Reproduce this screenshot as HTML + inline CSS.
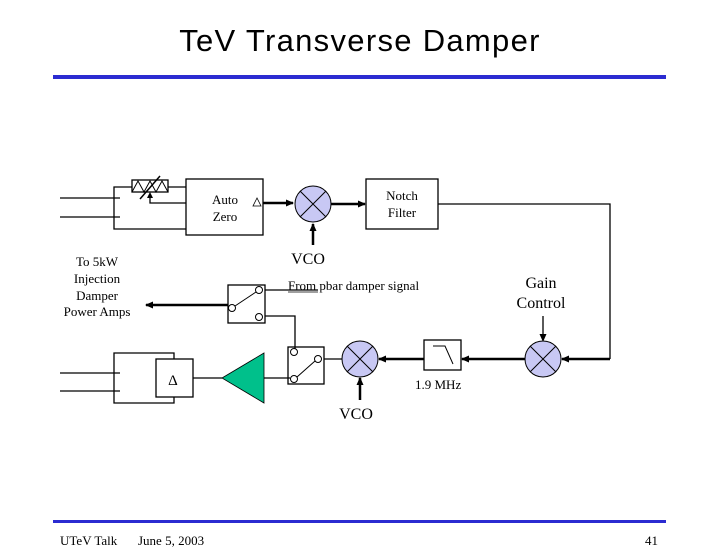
<!DOCTYPE html>
<html><head><style>
body{margin:0;background:#fff;}
svg{display:block;}
text{font-family:"Liberation Serif",serif;fill:#000;}
</style></head><body>
<svg width="720" height="558" viewBox="0 0 720 558" xmlns="http://www.w3.org/2000/svg">
<defs>
<marker id="a" markerWidth="8" markerHeight="8" refX="7" refY="4" orient="auto" markerUnits="userSpaceOnUse"><path d="M0,0.5 L8,4 L0,7.5z" fill="#000"/></marker>
</defs>
<text x="360" y="51" text-anchor="middle" style="font-family:'Liberation Sans',sans-serif;font-size:31px;letter-spacing:1.3px">TeV Transverse Damper</text>
<rect x="53" y="75" width="613" height="4" fill="#2b2bd1"/>
<rect x="53" y="520" width="613" height="3" fill="#2b2bd1"/>
<g fill="none" stroke="#000" stroke-width="1.3">
<line x1="60" y1="198" x2="120" y2="198"/><line x1="60" y1="217" x2="120" y2="217"/>
<polyline points="132,187 114,187 114,229 186,229"/>
<rect x="132" y="180" width="36" height="12"/>
<polyline points="132,192 138,181 144,192 150,181 156,192 162,181 168,192" stroke-width="1"/>
<line x1="168" y1="187" x2="186" y2="187"/>
<line x1="140" y1="199" x2="160" y2="176" stroke-width="1.5"/>
<polyline points="186,203 150,203 150,197"/>
<rect x="186" y="179" width="77" height="56"/>
<rect x="366" y="179" width="72" height="50"/>
<polyline points="438,204 610,204 610,359"/>
<rect x="228" y="285" width="37" height="38"/>
<line x1="265" y1="290" x2="318" y2="290"/>
<polyline points="265,316 295,316 295,349"/>
<rect x="288" y="347" width="36" height="37"/>
<line x1="324" y1="359" x2="342" y2="359"/>
<rect x="424" y="340" width="37" height="30"/>
<polyline points="433,346 445,346 453,364" stroke-width="1"/>
<line x1="543" y1="316" x2="543" y2="336"/>
<line x1="60" y1="373" x2="120" y2="373"/><line x1="60" y1="391" x2="120" y2="391"/>
<polyline points="174,359 174,353 114,353 114,403 174,403 174,397"/>
<rect x="156" y="359" width="37" height="38"/>
<line x1="193" y1="378" x2="222" y2="378"/>
<line x1="264" y1="378" x2="290" y2="378"/>
</g>
<polygon points="150,192 147,198 153,198" fill="#000"/>
<polygon points="222,378 264,353 264,403" fill="#00c08b" stroke="#000" stroke-width="0.8"/>
<g stroke="#000" stroke-width="2.5" fill="none" marker-end="url(#a)">
<line x1="263" y1="203" x2="293" y2="203"/>
<line x1="331" y1="204" x2="365" y2="204"/>
<line x1="313" y1="245" x2="313" y2="224"/>
<line x1="228" y1="305" x2="146" y2="305"/>
<line x1="424" y1="359" x2="379" y2="359"/>
<line x1="525" y1="359" x2="462" y2="359"/>
<line x1="610" y1="359" x2="562" y2="359"/>
<line x1="360" y1="400" x2="360" y2="378"/>
</g>
<g stroke="#000" stroke-width="1" fill="none" marker-end="url(#a)"><line x1="543" y1="336" x2="543" y2="341"/></g>
<g fill="#c8c8f4" stroke="#000" stroke-width="1">
<circle cx="313" cy="204" r="18"/><circle cx="360" cy="359" r="18"/><circle cx="543" cy="359" r="18"/>
</g>
<g stroke="#000" stroke-width="1">
<path d="M300,191 L326,217 M326,191 L300,217"/>
<path d="M347,346 L373,372 M373,346 L347,372"/>
<path d="M530,346 L556,372 M556,346 L530,372"/>
</g>
<g fill="#fff" stroke="#000" stroke-width="1">
<circle cx="259" cy="290" r="3.5"/><circle cx="259" cy="317" r="3.5"/><circle cx="232" cy="308" r="3.5"/>
<circle cx="294" cy="352" r="3.5"/><circle cx="318" cy="359" r="3.5"/><circle cx="294" cy="379" r="3.5"/>
</g>
<line x1="235" y1="306" x2="256" y2="292" stroke="#000"/>
<line x1="297" y1="377" x2="315" y2="361" stroke="#000"/>
<polygon points="257,198 253,206 261,206" fill="none" stroke="#000" stroke-width="0.8"/>
<g font-size="13">
<text x="225" y="204" text-anchor="middle">Auto</text>
<text x="225" y="221" text-anchor="middle">Zero</text>
<text x="402" y="200" text-anchor="middle">Notch</text>
<text x="402" y="217" text-anchor="middle">Filter</text>
<text x="97" y="266" text-anchor="middle">To 5kW</text>
<text x="97" y="283" text-anchor="middle">Injection</text>
<text x="97" y="300" text-anchor="middle">Damper</text>
<text x="97" y="316" text-anchor="middle">Power Amps</text>
<text x="288" y="290">From pbar damper signal</text>
<text x="415" y="389">1.9 MHz</text>
</g>
<line x1="288" y1="292" x2="318" y2="292" stroke="#000" stroke-width="0.8"/>
<text x="308" y="264" font-size="16" text-anchor="middle">VCO</text>
<text x="356" y="419" font-size="16" text-anchor="middle">VCO</text>
<text x="541" y="288" font-size="16" text-anchor="middle">Gain</text>
<text x="541" y="308" font-size="16" text-anchor="middle">Control</text>
<text x="173" y="385" font-size="15" text-anchor="middle">Δ</text>
<g font-size="13"><text x="60" y="545">UTeV Talk</text><text x="138" y="545">June 5, 2003</text><text x="658" y="545" text-anchor="end">41</text></g>
</svg>
</body></html>
